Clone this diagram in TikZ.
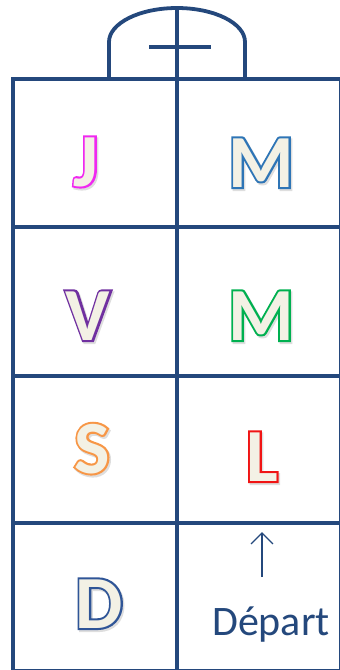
\documentclass[tikz,border=0pt]{standalone}
\usepackage{fontspec}
\setmainfont{Carlito}
\newfontfamily\outlinefont{Carlito Bold}[FakeBold=5.5]
\usetikzlibrary{arrows.meta}
\definecolor{gridblue}{RGB}{36,72,124}
\definecolor{cream}{RGB}{243,241,229}
\definecolor{shade}{RGB}{222,222,222}
\definecolor{cJ}{RGB}{240,40,240}
\definecolor{cMa}{RGB}{46,117,182}
\definecolor{cV}{RGB}{112,48,160}
\definecolor{cMb}{RGB}{0,176,80}
\definecolor{cS}{RGB}{247,150,70}
\definecolor{cL}{RGB}{240,20,20}
\definecolor{cD}{RGB}{47,85,151}
\newcommand\mybigletter[5]{%
  \node[letterbox, anchor=base] (#1) at (#2,#3)
    {\makebox[0pt]{\hspace{3pt}\raisebox{-2pt}{\textcolor{shade}{\outlinefont #5}}}%
     \makebox[0pt]{\textcolor{#4}{\outlinefont #5}}%
     \makebox[0pt]{\textcolor{cream}{\bfseries #5}}};
}
\begin{document}
\begin{tikzpicture}[x=1pt,y=-1pt,
  gridline/.style={draw=gridblue, line width=3.8pt},
  letterbox/.style={inner sep=0pt, font=\fontsize{75}{75}\selectfont},
  departbox/.style={inner sep=0pt, text=gridblue, font=\fontsize{42}{42}\selectfont},
  uparrow/.style={draw=gridblue, line width=1.4pt, -{Straight Barb[length=11pt,width=22pt,line width=1.4pt]}}]
\useasboundingbox (0,0) rectangle (340,670);
% dome
\draw[gridline] (109,79) -- (109,42) .. controls (109,23.2) and (139.5,8) .. (177,8)
  .. controls (214.5,8) and (245,23.2) .. (245,42) -- (245,79);
\draw[gridline, line width=3.4pt] (149,47) -- (211,47);
% grid
\draw[gridline] (13,671) -- (13,79) -- (341,79) -- (341,671) -- cycle;
\draw[gridline] (13,227) -- (341,227);
\draw[gridline] (13,376) -- (341,376);
\draw[gridline] (13,523) -- (341,523);
\draw[gridline] (177,8) -- (177,671);
% letters
\mybigletter{j}{86}{186}{cJ}{J}
\mybigletter{ma}{261}{187}{cMa}{M}
\mybigletter{v}{88}{340}{cV}{V}
\mybigletter{mb}{261}{340}{cMb}{M}
\mybigletter{s}{92}{473}{cS}{S}
\mybigletter{l}{262}{481}{cL}{L}
\mybigletter{d}{99}{628}{cD}{D}
% depart
\node[departbox, anchor=base] (depart) at (271,635) {Départ};
\coordinate (arrfrom) at (262,577);
\coordinate (arrto) at (262,532);
\draw[uparrow] (arrfrom) -- (arrto);
\end{tikzpicture}
\end{document}
